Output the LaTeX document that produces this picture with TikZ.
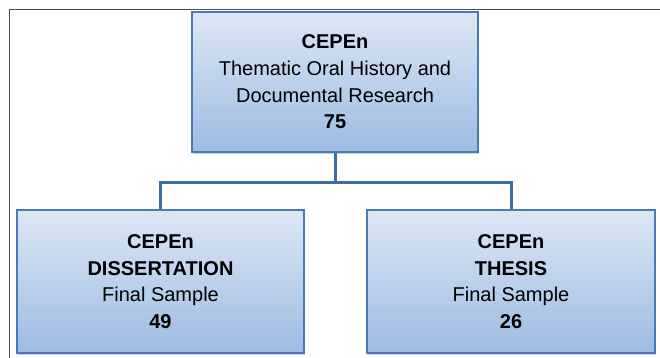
\documentclass[tikz,border=0pt]{standalone}
\usepackage{fontspec}
\setmainfont{Liberation Sans}
\usetikzlibrary{shadows}
\definecolor{boxtop}{HTML}{DDE7F5}
\definecolor{boxbot}{HTML}{9DBBE2}
\definecolor{boxline}{HTML}{4A7AB6}
\definecolor{conn}{HTML}{3E6CA6}
\tikzset{
  orgbox/.style={draw=boxline, line width=1.8pt, top color=boxtop, bottom color=boxbot,
    align=center, inner sep=0pt, font=\fontsize{20}{26.7}\selectfont,
    drop shadow={opacity=0.35, shadow xshift=0.8pt, shadow yshift=-2pt}},
  connector/.style={draw=conn, line width=3pt}
}
\begin{document}
\begin{tikzpicture}[x=1pt,y=-1pt]
\useasboundingbox (0,0) rectangle (660,357);
\clip (0,0) rectangle (660,357);
\draw[line width=0.9pt, draw=black!70] (9,9) rectangle (700,400);
\node[orgbox, minimum width=286pt, minimum height=140pt] (top) at (335,82)
  {\textbf{CEPEn}\\Thematic Oral History and\\Documental Research\\\textbf{75}};
\node[orgbox, minimum width=287pt, minimum height=143pt] (left) at (160.5,281.5)
  {\textbf{CEPEn}\\\textbf{DISSERTATION}\\Final Sample\\\textbf{49}};
\node[orgbox, minimum width=288pt, minimum height=143pt] (right) at (511,281.5)
  {\textbf{CEPEn}\\\textbf{THESIS}\\Final Sample\\\textbf{26}};
\coordinate (mid) at (335,182);
\draw[connector] (top.south) -- (mid);
\draw[connector] (left.north) |- (mid) -| (right.north);
\end{tikzpicture}
\end{document}
